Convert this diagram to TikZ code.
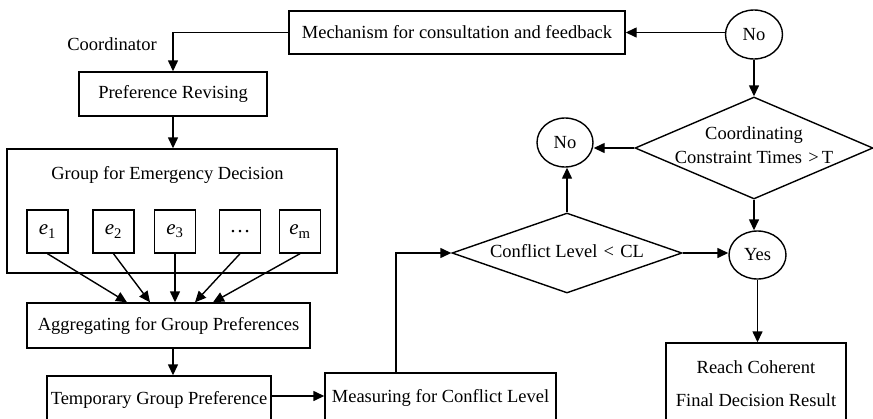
\documentclass[tikz,border=0pt]{standalone}
\usepackage{fontspec}
\setmainfont{Liberation Serif}
\usetikzlibrary{shapes.geometric,arrows.meta}
\begin{document}
\begin{tikzpicture}[x=1pt,y=-1pt,
  every node/.style={font=\fontsize{18.5}{22}\selectfont, inner sep=0pt},
  box/.style={draw, line width=1.4pt, rectangle},
  oval/.style={draw, line width=1.4pt, ellipse},
  decision/.style={draw, line width=1.4pt, diamond},
  expert/.style={box, minimum width=41pt, minimum height=43pt, font=\fontsize{21}{24}\selectfont},
  arr/.style={line width=1.4pt, -{Triangle[length=11pt,width=10pt]}}]
\clip (0,0) rectangle (873,418);

% feedback loop at the top
\node[box, minimum width=336pt, minimum height=43pt] (mech) at (457,32.5) {Mechanism for consultation and feedback};
\node[oval, minimum width=57pt, minimum height=49pt] (noTop) at (754,34.5) {No};
\node (coordr) at (112,44) {Coordinator};

% left column
\node[box, minimum width=188pt, minimum height=44pt] (pref) at (173,94) {Preference Revising};
\node[box, minimum width=330pt, minimum height=124pt] (group) at (172,211) {};
\node (grouplbl) at (167.5,175) {Group for Emergency Decision};
\node[expert] (e1) at (47.5,231.5) {{\itshape e}\textsubscript{1}};
\node[expert] (e2) at (113.5,231.5) {{\itshape e}\textsubscript{2}};
\node[expert] (e3) at (175,231.5) {{\itshape e}\textsubscript{3}};
\node[expert] (e4) at (240,231.5) {\ldots};
\node[expert] (e5) at (300,231.5) {{\itshape e}\textsubscript{m}};
\node[box, minimum width=283pt, minimum height=45pt] (agg) at (168.5,325.5) {Aggregating for Group Preferences};
\node[box, minimum width=224pt, minimum height=48pt] (temp) at (159,400) {Temporary Group Preference};
\node[box, minimum width=231pt, minimum height=50pt] (meas) at (440.5,398) {Measuring for Conflict Level};

% decisions
\node[decision, minimum width=230pt, minimum height=80pt,
      label={[yshift=2pt]center:Conflict Level\,\,<\,\,CL}] (conf) at (567,253) {};
\node[decision, minimum width=238pt, minimum height=102pt,
      label={[align=center, font=\fontsize{18.5}{24}\selectfont, yshift=3pt]center:{Coordinating\\Constraint Times\,\,>\,T}}] (coord) at (754,148) {};
\node[oval, minimum width=56pt, minimum height=49pt] (noLeft) at (565,142.5) {No};
\node[oval, minimum width=57pt, minimum height=48pt] (yes) at (757.5,255) {Yes};
\node[box, minimum width=180pt, minimum height=81pt, align=center,
      font=\fontsize{18.5}{33}\selectfont] (reach) at (756,383.5) {Reach Coherent\\Final Decision Result};

% arrow tips on top of the aggregation box
\coordinate (a1) at ([xshift=-41.5pt]agg.north);
\coordinate (a2) at ([xshift=-18.5pt]agg.north);
\coordinate (a3) at (e3 |- agg.north);
\coordinate (a4) at ([xshift=26.5pt]agg.north);
\coordinate (a5) at ([xshift=44.5pt]agg.north);

% connectors
\draw[arr] (noTop.west |- mech.east) -- (mech.east);
\draw[arr] (mech.west) -| (pref.north);
\draw[arr] (pref.south) -- (pref.south |- group.north);
\draw[arr] (e1.south) -- (a1);
\draw[arr] (e2.south) -- (a2);
\draw[arr] (e3.south) -- (a3);
\draw[arr] (e4.south) -- (a4);
\draw[arr] (e5.south) -- (a5);
\draw[arr] (pref.south |- agg.south) -- (pref.south |- temp.north);
\draw[arr] ([yshift=4pt]temp.east) -- ([yshift=4pt]temp.east -| meas.west);
\draw[arr] ([xshift=-44.5pt]meas.north) |- (conf.west);
\draw[arr] (conf.east) -- (conf.east -| yes.west);
\draw[arr] (conf.north) -- (conf.north |- noLeft.south);
\draw[arr] (coord.west) -- (coord.west -| noLeft.east);
\draw[arr] (noTop.south) -- (coord.north);
\draw[arr] (coord.south) -- (coord.south |- yes.north);
\draw[arr] (yes.south) -- (yes.south |- reach.north);
\end{tikzpicture}
\end{document}
